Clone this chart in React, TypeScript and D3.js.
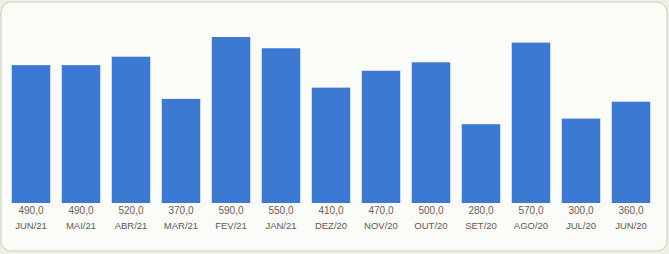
import React from "react";
import { scaleBand, scaleLinear } from "d3";

const months = ["JUN/21", "MAI/21", "ABR/21", "MAR/21", "FEV/21", "JAN/21", "DEZ/20", "NOV/20", "OUT/20", "SET/20", "AGO/20", "JUL/20", "JUN/20"];
const values = [490, 490, 520, 370, 590, 550, 410, 470, 500, 280, 570, 300, 360];

const W = 669;
const H = 254;

export default function App() {
  // bars sit on a baseline at y=203, tallest (590) reaches ~y=37
  const x = scaleBand<string>()
    .domain(months)
    .range([6, 656])
    .paddingInner(0.23)
    .paddingOuter(0.115);

  const y = scaleLinear().domain([0, 590]).range([203, 37]);

  const fmt = (v: number) => v.toFixed(1).replace(".", ",");

  return (
    <svg
      width={W}
      height={H}
      style={{ position: "absolute", top: 0, left: 0, display: "block" }}
      fontFamily="Liberation Sans, Arial, sans-serif"
    >
      <rect x={0} y={0} width={W} height={H} fill="#eef0e6" />
      <rect x={1} y={2} width={W - 3} height={H - 5} rx={10} fill="#fbfbf8" stroke="#d9dccb" strokeWidth={1.5} />
      {months.map((m, i) => (
        <g key={m}>
          <rect
            x={x(m)}
            y={y(values[i])}
            width={x.bandwidth()}
            height={y(0) - y(values[i])}
            fill="#3b79d3"
          />
          <text
            x={(x(m) ?? 0) + x.bandwidth() / 2}
            y={214}
            textAnchor="middle"
            fontSize={10}
            fill="#6a5e58"
          >
            {fmt(values[i])}
          </text>
          <text
            x={(x(m) ?? 0) + x.bandwidth() / 2}
            y={229}
            textAnchor="middle"
            fontSize={9.5}
            fill="#5a5a5a"
          >
            {m}
          </text>
        </g>
      ))}
    </svg>
  );
}
